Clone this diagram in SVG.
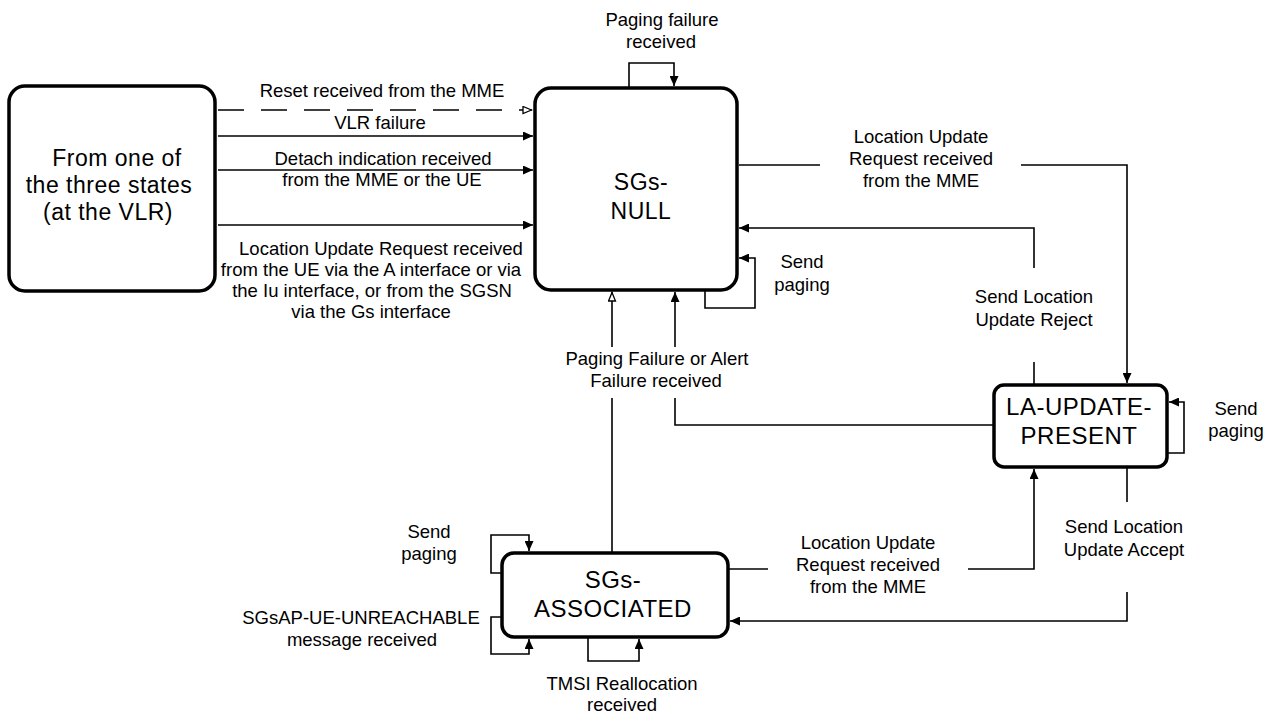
<svg xmlns="http://www.w3.org/2000/svg" width="1272" height="714" viewBox="0 0 1272 714">
<defs>
<marker id="af" markerUnits="userSpaceOnUse" markerWidth="11" markerHeight="9" refX="10" refY="4.5" orient="auto"><path d="M0,0 L10,4.5 L0,9 z" fill="#000"/></marker>
<marker id="ah" markerUnits="userSpaceOnUse" markerWidth="11" markerHeight="10" refX="10" refY="4.5" orient="auto"><path d="M1,1 L9.5,4.5 L1,8 z" fill="#fff" stroke="#000" stroke-width="1.3"/></marker>
<style>
.node{fill:#fff;stroke:#000;stroke-width:3.5}
.c{fill:none;stroke:#000;stroke-width:1.6}
.a{marker-end:url(#af)}
.h{marker-end:url(#ah)}
.d{stroke-dasharray:26 17}
text{font-family:"Liberation Sans",Arial,sans-serif;fill:#000;text-anchor:middle}
.lbl{font-size:18.5px}
.nt{font-size:23px;letter-spacing:0.5px}
.nb{font-size:24px;letter-spacing:0.5px}
</style>
</defs>
<rect width="1272" height="714" fill="#fff"/>
<g id="from-states">
<rect class="node" x="9" y="86" width="206" height="205" rx="16"/>
<text class="nt" x="117" y="166">From one of</text>
<text class="nt" x="109" y="193">the three states</text>
<text class="nt" x="108" y="220">(at the VLR)</text>
</g>
<g id="sgs-null">
<rect class="node" x="535" y="88" width="202" height="202" rx="16"/>
<text class="nt" x="641" y="190">SGs-</text>
<text class="nt" x="641" y="219">NULL</text>
</g>
<g id="la-update-present">
<rect class="node" x="994" y="385" width="173" height="82" rx="10"/>
<text class="nb" x="1079" y="415">LA-UPDATE-</text>
<text class="nb" x="1079" y="444">PRESENT</text>
</g>
<g id="sgs-associated">
<rect class="node" x="502" y="553" width="226" height="84" rx="12"/>
<text class="nb" x="613" y="588">SGs-</text>
<text class="nb" x="613" y="617">ASSOCIATED</text>
</g>
<g id="connectors">
<path class="c d h" d="M218,110 H532"/>
<path class="c a" d="M218,136 H533"/>
<path class="c a" d="M218,170 H533"/>
<path class="c a" d="M218,225 H533"/>
<path class="c a" d="M629,88 V63 H674 V86"/>
<path class="c a" d="M705,290 V308 H755 V258 H739"/>
<path class="c" d="M739,165 H820"/>
<path class="c a" d="M1021,165 H1127 V383"/>
<path class="c a" d="M1034,268 V228 H739"/>
<path class="c" d="M1034,362 V385"/>
<path class="c a" d="M1167,453 H1184 V402 H1169"/>
<path class="c" d="M1127,467 V502"/>
<path class="c a" d="M1127,592 V621 H730"/>
<path class="c" d="M728,569 H768"/>
<path class="c a" d="M968,569 H1034 V469"/>
<path class="c h" d="M612,347 V292"/>
<path class="c" d="M612,398 V553"/>
<path class="c a" d="M675,347 V292"/>
<path class="c" d="M994,425 H675 V398"/>
<path class="c a" d="M502,573 H491 V535 H529 V551"/>
<path class="c a" d="M502,617 H491 V654 H529 V639"/>
<path class="c a" d="M588,637 V661 H639 V639"/>
</g>
<g id="labels" class="lbl">
<text class="lbl" x="382" y="97">Reset received from the MME</text>
<text class="lbl" x="380" y="129">VLR  failure</text>
<text class="lbl" x="383" y="165">Detach indication received</text>
<text class="lbl" x="382" y="186">from the MME or the UE</text>
<text class="lbl" x="381" y="255">Location Update Request received</text>
<text class="lbl" x="371" y="276">from the UE via the A interface or via</text>
<text class="lbl" x="372" y="297">the Iu interface, or from the SGSN</text>
<text class="lbl" x="371" y="318">via the Gs interface</text>
<text class="lbl" x="662" y="26">Paging failure</text>
<text class="lbl" x="661" y="48">received</text>
<text class="lbl" x="921" y="143">Location Update</text>
<text class="lbl" x="921" y="165">Request received</text>
<text class="lbl" x="921" y="187">from the MME</text>
<text class="lbl" x="802" y="268">Send</text>
<text class="lbl" x="802" y="291">paging</text>
<text class="lbl" x="1034" y="303">Send Location</text>
<text class="lbl" x="1034" y="326">Update Reject</text>
<text class="lbl" x="657" y="365">Paging Failure or Alert</text>
<text class="lbl" x="656" y="387">Failure received</text>
<text class="lbl" x="1236" y="415">Send</text>
<text class="lbl" x="1236" y="437">paging</text>
<text class="lbl" x="1124" y="533">Send Location</text>
<text class="lbl" x="1124" y="556">Update Accept</text>
<text class="lbl" x="868" y="549">Location Update</text>
<text class="lbl" x="868" y="571">Request received</text>
<text class="lbl" x="868" y="593">from the MME</text>
<text class="lbl" x="429" y="538">Send</text>
<text class="lbl" x="429" y="560">paging</text>
<text class="lbl" x="361" y="624">SGsAP-UE-UNREACHABLE</text>
<text class="lbl" x="362" y="646">message received</text>
<text class="lbl" x="622" y="690">TMSI Reallocation</text>
<text class="lbl" x="622" y="711">received</text>
</g>
</svg>
